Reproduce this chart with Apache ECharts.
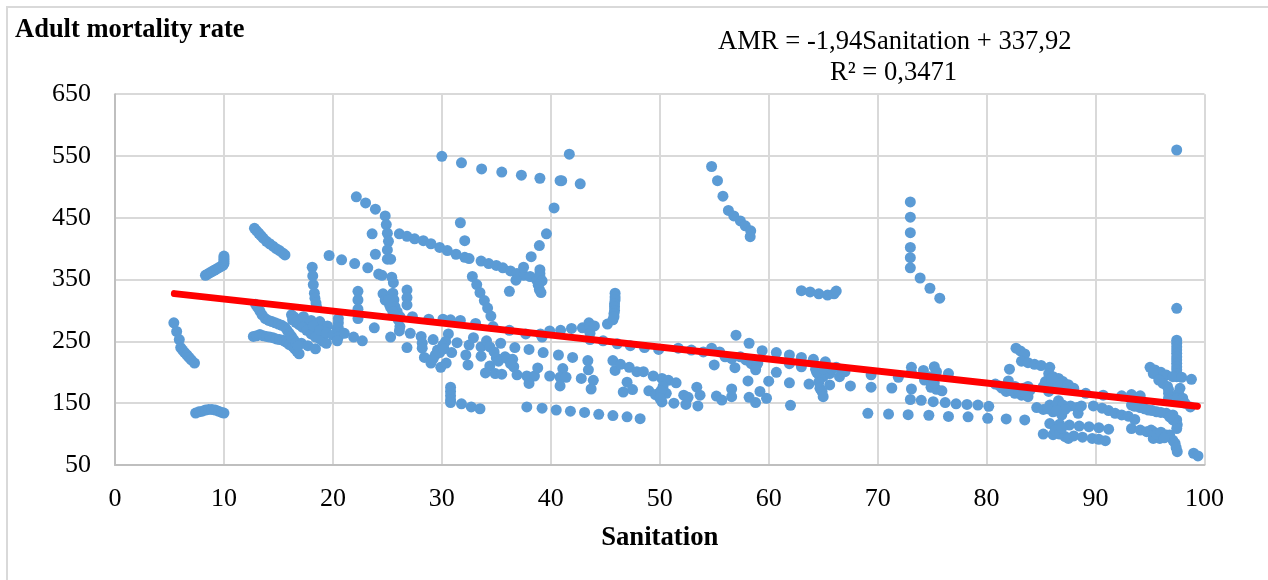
<!DOCTYPE html>
<html><head><meta charset="utf-8">
<script src="https://cdn.jsdelivr.net/npm/echarts@6/dist/echarts.min.js"></script>
<style>html,body{margin:0;padding:0;background:#fff}#c{width:1268px;height:580px}</style></head>
<body><div id="c"></div>
<script>
const xTicks=[0,10,20,30,40,50,60,70,80,90,100];
const yTicks=[50,150,250,350,450,550,650];
const trendX=[5.45,99.35];
const trendY=[327.3,145.2];
const clusterLowLeft=[[5.4,280],[5.66,266],[5.9,253],[6.03,240],[6.2,236],[6.4,232],[6.6,228],[6.8,224],[7,220],[7.3,215],[7.4,134],[7.7,136],[8,137],[8.3,139],[8.6,140],[8.9,140],[9.2,139],[9.5,137],[9.8,135],[10,134],[8.3,357],[8.5,359],[8.7,361],[8.9,363],[9.1,365],[9.3,367],[9.5,369],[9.7,371],[9.9,373],[10,376],[10,379],[10,382],[10,385],[10,388]];
const cluster13to20=[[12.8,433],[13,429],[13.2,425],[13.4,421],[13.6,417],[13.9,412],[14.2,408],[14.5,404],[14.8,400],[15.1,397],[15.4,393],[15.6,390],
[12.7,258],[13,259],[13.3,261],[13.6,259],[13.9,258],[14.2,257],[14.5,256],[14.8,254],[15.1,253],[15.4,252],[15.6,250],[15.8,248],[16,245],[16.3,242],[16.5,238],[16.7,234],[16.9,230],[17.1,247],[17.7,243],[18.4,238],
[12.9,310],[13.1,305],[13.3,299],[13.5,293],[13.8,287],[14.1,284],[14.4,282],[14.7,280],[15,278],[15.3,276],[15.6,273],[15.8,268],[16,263],[16.2,258],[16.4,253],[16.6,248],[16.8,243],
[16.2,293],[16.4,290],[16.6,287],[16.8,284],[17,281],[17.2,278],[17.4,275],[17.6,272],[17.8,269],[18,266],[18.2,262],[18.5,258],[18.8,254],[19.1,250],[19.4,247],
[16.3,285],[16.6,281],[16.9,277],[17.2,273],[17.6,268],[18,262],[18.4,257],[17.3,290],[18,284],[18.8,282],[19.5,275],[20.4,271],[18.2,275],[18.8,268],[19.4,264],[20,260],
[18.1,370],[18.15,356],[18.2,342],[18.3,328],[18.35,320],[18.45,312],[18.5,306],
[20.5,287],[20.5,280],[20.5,272],[20.5,264],[20.5,257],[20.4,251],[21.05,263],[21.9,257],[22.7,251]];
const cluster20to27=[[19.65,389],[20.8,382],[22,376],[23.2,369],[24.2,359],[24.5,357],[25.4,354],[25.55,345],[23.9,391],[23.6,424],[26.1,424],
[22.15,484],[23,474],[23.9,464],[24.8,453],[24.9,439],[25,425],[25.1,412],[25,398],[25,383],[25.3,383],
[22.3,331],[22.3,317],[22.3,302],[22.3,287],[24.6,327],[24.8,317],[25.2,309],[25.4,325],[25.5,328],[25.6,317],[25.7,306],[25.9,298],[26.15,290],[25.1,317],[25.3,305],[25.5,298],[25.7,292],[26,285],[26.15,274],[26.1,267],[23.8,272],[25.3,257],
[26.8,333],[26.8,321],[26.8,309],[27.1,263],[26.8,240],[28.1,258],[28.2,247],[28.2,239],[28.4,224],[29.2,253]];
const lineDescending=[[26.8,420],[27.5,416],[28.3,413],[29,408],[29.8,402],[30.5,397],[31.3,391],[32.1,386],[32.5,384],[33.6,380],[34.3,376],[35,373],[35.6,369],[36.3,364],[36.9,360],[37.5,357],[38.1,355],[38.7,349],[31.7,442],[32.1,413],
[32.8,355],[33.2,342],[33.5,329],[33.9,316],[34.2,304],[34.5,291],[36.2,331],[36.8,349],[37.5,370],[38.2,387],[38.95,405],[39.6,424],[40.3,466],[40.85,510],[41,510],[41.7,553],[42.7,505],
[39,366],[39,360],[39,355],[39.2,348],[38.85,341],[38.95,334],[39.1,329],
[30,549.5],[31.8,539],[33.65,529],[35.5,524],[37.3,519],[39,514]];
const rowAlongTrend=[[27.3,290],[28.8,286],[30.1,286],[30.8,285],[31.7,284],[33.1,279],[34.7,274],[36.2,268],[37.7,262],[39.05,262],[39.2,257],[39.9,267],[40.9,268],[41.9,271],[42.9,272],[43.5,280],[43.6,274],[43.6,263],[43.6,253],[44,275],[44.8,251],[46.1,246],[47.3,243],[48.6,240],[49.9,237],[51.7,239],[45.2,278],[45.7,285],
[45.9,328],[45.9,322],[45.9,317],[45.85,311],[45.85,306],[45.85,300],[45.8,295],[45.8,290]];
const scatter28to44=[[30.6,262],[30.35,250],[30.1,244],[29.6,236],[29.4,228],[29,215],[29.9,208],[30.4,215],[30.9,232],[31.4,248],[32.5,244],[32.9,256],[32.2,228],[32.4,212],[33.6,241],[34.1,251],[33.6,226],[34.4,241],[34.8,233],[35,223],[35.4,247],[35.8,225],[36.5,221],[36.7,240],[36.6,209],[36.9,196],[38,237],[37.8,194],[38.5,194],[38.8,207],[38,182],[39.3,232],[39.9,194],[40.7,228],[41.1,206],[40.85,192],[41.4,192],[40.85,178],[42,224],[43.4,219],[43.45,204],[42.8,190],[43.9,187],[43.7,173],[34.4,210],[34,199],[34.9,198],[35.5,197],[29.2,222],[29.8,232],[30.2,238],[35.2,218],[36,222],[36.3,214],
[30.8,176],[30.8,169],[30.8,162],[30.8,155],[30.8,151],[31.8,149],[32.7,144],[33.5,141],
[37.8,144],[39.2,142],[40.5,139],[41.8,137],[43.1,135],[44.4,132],[45.7,130],[47,128],[48.2,125]];
const cluster45to52=[[45.7,219],[45.9,203],[46.4,213],[47.2,208],[47.9,201],[48.5,201],[49.4,194],[50.2,190],[50.8,187],[51.5,183],[47,184],[46.65,168],[47.5,172],[49,170],[49.6,164],[50.2,163],[50.6,166],[50.3,177],[50.2,152],[51.3,150],[50.1,170],[50,158]];
const cluster52to78=[[54.76,533],[55.3,510],[55.8,485],[56.3,462],[56.8,453],[57.4,445],[57.85,437],[58.35,429],[58.3,419.5],
[63,332],[63.8,330],[64.6,327],[65.4,325],[66,327],[66.2,331.5],
[73,475.6],[73,451],[73,426],[73,402],[73,385.5],[73,369],[73.9,352.6],[74.8,336],[75.7,320],
[57,260],[58.2,247],[59.4,235],[60.7,232],[61.9,228],[63,224],[64.1,221],[65.2,217],[52.9,236],[54,233],[54.76,239],[55.5,233],[56,225],[56.6,222],[57.4,225],[57.9,220],[58.4,214],[58.9,212],[59,215],[61.9,214],[63,209],[64.3,205],[64.6,196],[65,193],[65.6,198],[66.5,193],[67,201],[55,212],[56.9,207.5],[58.8,204],[60.7,200],[64.4,200],[65,205],[65.8,205],[66.2,208],
[52.2,163],[52.6,159.5],[52.4,148],[53.5,145.5],[53.4,176],[53.7,163],[55.2,161.6],[55.7,155],[56.6,173],[56.6,160.6],[58.1,186],[58.2,159.5],[58.8,151],[59.2,169],[59.8,158],[60,185.6],[62,146.5],[61.9,183],[63.7,181],[65.6,179.5],[64.6,184],[64.7,174],[64.9,168.7],[65,160.5],[67.5,178],[69.4,196],[69.4,176],[69.1,133.6],[71,132.5],[71.3,174.6],[71.9,192],[72.8,131.5],[73,156],[73.1,173],[73.1,208],[73.1,200],[74,154.6],[74.2,203],[74.7,130.5],[75.1,152.4],[75.2,209],[75.4,201],[74.3,187.5],[74.9,175.7],[75.4,172.4],[75.9,170],[76.2,151],[76.5,128.6],[76.5,198],[74.8,193],[75.2,183],[77.2,149],[78.2,148],[79.2,147],[80.2,145],[78.3,128],[80.1,125.5],[81.8,124.5],[83.5,123]];
const cluster80to92=[[82.1,205],[82.7,239],[83.1,234.5],[83.5,229.6],[83.2,218],[83.8,215.6],[84.4,213],[85,211],[85.8,208],[85.7,198],[86.1,193],[86.6,190],[87,185],[87.5,180],[88,174],[85.4,185],[85.2,177],[85.7,169],[86.3,177],[87,174],[86,185],[86.5,182],[86,190],
[80.8,181],[81.4,174.5],[82,186],[81.8,169],[82.6,166],[83.2,163],[83.8,160.5],[84,171],[83.4,174],[82.6,177],[82,177],[83.8,177],[81.2,178],[82.3,170],[83,168],[83.6,165],
[89.1,166],[90.7,163],[92.4,162],[93.3,164],[94.1,162],
[89.8,145.5],[90.6,142],[91.2,138],[91.8,133.6],[92.4,131],[93,129],[93.6,123.7],
[84.6,143],[85.2,140],[85.8,147],[86.1,136],[86.6,154],[86.6,142],[86.9,131],[87.7,145.5],[88.3,143],[88.4,133.6],[88.7,145.5],[86.4,147.5],[87,147],[87.2,140],[85.6,141],[86.4,138],
[85.8,117],[86.7,116],[87.6,114.7],[88.5,113],[89.4,112],[90.3,110.4],[91.2,108],[85.2,100],[86.1,99],[86.3,106.6],[86.7,100],[87.2,96],[87.5,93],[88,97],[88.8,95],[89.7,93],[90.3,91.5],[90.9,89.4],[86.9,110]];
const cluster93to100=[[93.3,109],[94.1,106.6],[94.7,104],[95.3,104],[95.3,93],[95.9,93],[96.5,98.5],[97.1,90],[96.8,98.5],[97.3,85],[97.5,71.6],[97.4,78],[95.1,106.6],[95.6,100],[96,103],[96.3,94],[99,69],[99.4,64.6],
[97.45,559.7],[97.45,303.5],[97.45,252],[97.45,247],[97.45,241.5],[97.45,236],[97.45,230.7],[97.45,225],[97.45,220],[97.45,214.5],[97.45,209],[97.45,204],[97.45,198],[97.45,193],
[95,208],[95.45,203.7],[96,200],[96.5,195.6],[97.1,193],[97.9,192],[98.8,188.6],
[95.3,198],[95.8,187.5],[96.2,182],[96.6,177],[96.7,166],[96.7,158],[96.7,172],[97.75,174],[97.6,166],[97.45,158],[98,158],[98.7,144],[98.2,150],
[93.3,147],[94.1,143],[94.85,139],[95.6,136],[96.5,133.6],[97.1,131],[97.45,123],[97.5,115],[97.45,109],[97.1,123],[93.6,145],[94.5,141],[95.2,138],[96,135],[96.8,128]];
const points=[...clusterLowLeft,...cluster13to20,...cluster20to27,...lineDescending,...rowAlongTrend,...scatter28to44,...cluster45to52,...cluster52to78,...cluster80to92,...cluster93to100];
const serif='"Liberation Serif","Times New Roman",serif';
const chart=echarts.init(document.getElementById('c'),null,{renderer:'canvas'});
chart.setOption({
 animation:false,backgroundColor:'#fff',
 title:[{text:'Adult mortality rate',left:15,top:17,padding:0,textStyle:{fontFamily:serif,fontSize:26.5,fontWeight:'bold',color:'#000'}}],
 graphic:[
  {type:'rect',shape:{x:7,y:7,width:1400,height:700},style:{fill:'none',stroke:'#d9d9d9',lineWidth:2},silent:true,z:-10},
  {type:'text',left:718,top:29,style:{text:'AMR = -1,94Sanitation + 337,92',fontFamily:serif,fontSize:26.6,fill:'#000'}},
  {type:'text',left:830,top:60,style:{text:'R² = 0,3471',fontFamily:serif,fontSize:26.6,fill:'#000'}}
 ],
 grid:{left:115,right:63.5,top:94.2,bottom:115},
 xAxis:{type:'value',min:0,max:100,interval:10,name:'Sanitation',nameLocation:'middle',nameGap:60,
  nameTextStyle:{fontFamily:serif,fontSize:26.7,fontWeight:'bold',color:'#000'},
  axisLine:{show:true,onZero:false,lineStyle:{color:'#bfbfbf',width:2}},axisTick:{show:false},
  splitLine:{show:true,lineStyle:{color:'#d9d9d9',width:2}},
  axisLabel:{fontFamily:serif,fontSize:26,color:'#000',margin:21,showMinLabel:true,showMaxLabel:true},data:xTicks},
 yAxis:{type:'value',min:50,max:650,
  axisLine:{show:true,onZero:false,lineStyle:{color:'#bfbfbf',width:2}},
  axisTick:{show:false,customValues:yTicks},
  splitLine:{show:true,lineStyle:{color:'#d9d9d9',width:2}},
  axisLabel:{customValues:yTicks,fontFamily:serif,fontSize:26,color:'#000',margin:24,padding:[2,0,0,0]}},
 series:[
  {type:'scatter',data:points,symbol:'circle',symbolSize:11,itemStyle:{color:'#5b9bd5',opacity:1},z:3},
  {type:'line',data:trendX.map((x,i)=>[x,trendY[i]]),showSymbol:false,symbol:'none',lineStyle:{color:'#ff0000',width:7,cap:'round'},z:4}
 ]
});
</script></body></html>
